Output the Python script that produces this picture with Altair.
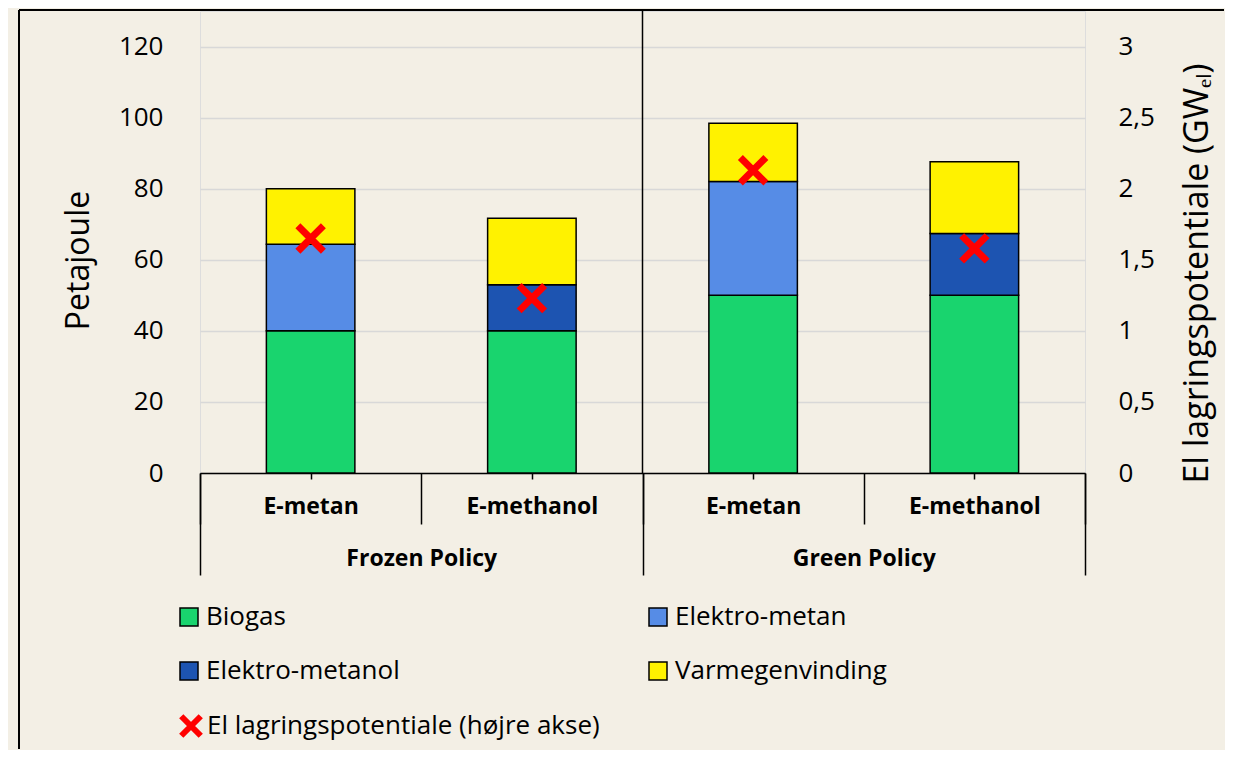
import altair as alt
import pandas as pd

# ---------------- data ----------------
policies = ["Frozen Policy", "Frozen Policy", "Green Policy", "Green Policy"]
products = ["E-metan", "E-methanol", "E-metan", "E-methanol"]
group_order = ["Frozen Policy", "Green Policy"]

series_names = ["Biogas", "Elektro-metan", "Elektro-metanol", "Varmegenvinding"]
series_colors = ["#19D46E", "#568CE6", "#1D54B1", "#FFF200"]
biogas = [40.0, 40.0, 50.0, 50.0]
elektro_metan = [24.4, 0.0, 32.0, 0.0]
elektro_metanol = [0.0, 13.0, 0.0, 17.4]
varmegenvinding = [15.6, 18.7, 16.4, 20.2]

el_label = "El lagringspotentiale (højre akse)"
el_lagring = [1.65, 1.23, 2.13, 1.58]

left_ticks = [0, 20, 40, 60, 80, 100, 120]
right_ticks = [0, 0.5, 1, 1.5, 2, 2.5, 3]

FONT = "Open Sans"
XPATH = "M-1,-1L1,1M-1,1L1,-1"
W, H = 885, 462

# ---------------- tables ----------------
keys = [f"{p}|{q}" for p, q in zip(policies, products)]
rows = []
for si, (name, vals) in enumerate(zip(series_names,
                                      [biogas, elektro_metan, elektro_metanol, varmegenvinding])):
    for k, v in zip(keys, vals):
        if v > 0:
            rows.append({"key": k, "serie": name, "value": v, "order": si})
bars_df = pd.DataFrame(rows)
pts_df = pd.DataFrame({"key": keys, "gw": el_lagring, "lbl": [el_label] * len(keys)})
grp_df = pd.DataFrame({"grp": group_order[1:]})

band = alt.Scale(domain=keys, paddingInner=0, paddingOuter=0)

bars = alt.Chart(bars_df).mark_bar(width={"band": 0.4}, stroke="black", strokeWidth=1.5).encode(
    x=alt.X("key:N", scale=band, title=None,
            axis=alt.Axis(orient="bottom", labelExpr="split(datum.label, '|')[1]",
                          tickBand="extent", tickSize=51, tickColor="black", tickWidth=1.5,
                          domainColor="black", domainWidth=1.5, labelAngle=0,
                          labelFont=FONT, labelFontSize=23, labelFontWeight="bold",
                          labelColor="black", labelPadding=-29, grid=False)),
    y=alt.Y("value:Q", stack="zero", scale=alt.Scale(domain=[0, 130], nice=False),
            axis=alt.Axis(orient="left", values=left_ticks, title="Petajoule",
                          domain=False, ticks=False, grid=True, gridColor="#D8D8D8",
                          gridWidth=1.5, labelFont=FONT, labelFontSize=26,
                          labelColor="black", labelPadding=37,
                          titleFont=FONT, titleFontSize=32, titleFontWeight="normal",
                          titleColor="black", titlePadding=23, titleY=249)),
    fill=alt.Fill("serie:N", scale=alt.Scale(domain=series_names, range=series_colors),
                  legend=alt.Legend(orient="none", legendX=-24, legendY=593, columns=2,
                                    direction="horizontal",
                                    title=None, symbolType="square", symbolSize=324,
                                    symbolStrokeColor="black", symbolStrokeWidth=1.5,
                                    labelFont=FONT, labelFontSize=26, labelColor="black",
                                    labelOffset=4, columnPadding=245, rowPadding=28,
                                    padding=0, labelLimit=500)),
    order=alt.Order("order:Q"),
)

pts = alt.Chart(pts_df).mark_point(filled=False, strokeWidth=7, size=650, opacity=1).encode(
    x=alt.X("key:N", scale=band, title=None,
            axis=alt.Axis(orient="bottom", labels=False, domain=False, tickSize=6,
                          tickColor="black", tickWidth=1.5, grid=False)),
    y=alt.Y("gw:Q", scale=alt.Scale(domain=[0, 3.25], nice=False),
            axis=alt.Axis(orient="right", values=right_ticks, domain=False, ticks=False,
                          grid=False, labelExpr="replace(format(datum.value, '~g'), '.', ',')",
                          labelFont=FONT, labelFontSize=26, labelColor="black",
                          labelPadding=33, title="El lagringspotentiale (GW\u2091\u2097)",
                          titleFont=FONT, titleFontSize=34, titleFontWeight="normal",
                          titleColor="black", titlePadding=26, titleAngle=270,
                          titleBaseline="top", titleY=262)),
    shape=alt.Shape("lbl:N", scale=alt.Scale(domain=[el_label], range=[XPATH]),
                    legend=alt.Legend(orient="none", legendX=-22, legendY=702, title=None,
                                      symbolSize=380, symbolStrokeColor="#FF0000",
                                      symbolStrokeWidth=6, symbolFillColor="transparent",
                                      labelFont=FONT, labelFontSize=26, labelColor="black",
                                      labelOffset=3, padding=0, labelLimit=600)),
    color=alt.value("#FF0000"),
)

groups = alt.Chart(grp_df).mark_rule(color="black", strokeWidth=1.5).encode(
    x=alt.X("grp:N", bandPosition=0,
            scale=alt.Scale(domain=group_order, paddingInner=0, paddingOuter=0), title=None,
            axis=alt.Axis(orient="bottom", tickBand="extent", tickSize=102, tickColor="black",
                          tickWidth=1.5, domain=False, labelAngle=0, labelFont=FONT,
                          labelFontSize=23, labelFontWeight="bold", labelColor="black",
                          labelPadding=-28, grid=False)),
)

one = pd.DataFrame({"a": [0]})
frame_top = alt.Chart(one).mark_rule(color="black", strokeWidth=2).encode(
    x=alt.value(-181), x2=alt.value(1024), y=alt.value(-1))
frame_left = alt.Chart(one).mark_rule(color="black", strokeWidth=2).encode(
    x=alt.value(-181), y=alt.value(-1), y2=alt.value(738))

chart = alt.layer(frame_top, frame_left, bars, pts, groups).resolve_scale(
    x="independent", y="independent"
).properties(
    width=W, height=H, background="#F3EFE5",
    padding={"left": 10, "top": 1, "right": 0, "bottom": 0},
).configure_view(stroke=None).configure(font=FONT)

chart.save("out.html", embed_options={"renderer": "svg", "actions": False})
